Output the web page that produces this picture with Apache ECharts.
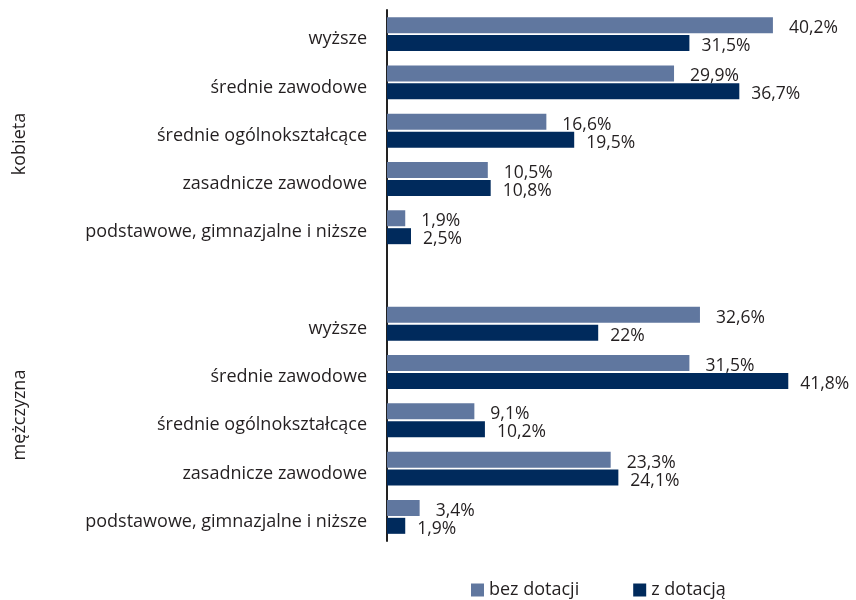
<!DOCTYPE html>
<html><head><meta charset="utf-8">
<script src="https://cdn.jsdelivr.net/npm/echarts@6/dist/echarts.min.js"></script>
<style>html,body{margin:0;padding:0;background:#fff}#c{width:856px;height:600px}</style>
</head><body><div id="c"></div>
<script>
const groups = ['kobieta','mężczyzna'];
const levels = ['wyższe','średnie zawodowe','średnie ogólnokształcące','zasadnicze zawodowe','podstawowe, gimnazjalne i niższe'];
const seriesNames = ['bez dotacji','z dotacją'];
const bezDotacji = [40.2, 29.9, 16.6, 10.5, 1.9, null, 32.6, 31.5, 9.1, 23.3, 3.4];
const zDotacja   = [31.5, 36.7, 19.5, 10.8, 2.5, null, 22.0, 41.8, 10.2, 24.1, 1.9];
const categories = [...levels.map(l => groups[0] + '|' + l), 'gap|', ...levels.map(l => groups[1] + '|' + l)];
const colors = ['#60779f','#002a5c'];
const font = '"Open Sans", sans-serif';
const fmt = p => (p.value == null ? '' : String(p.value).replace('.', ',') + '%');
const chart = echarts.init(document.getElementById('c'));
chart.setOption({
  animation:false,
  textStyle:{fontFamily:font},
  grid:{left:387,top:10,width:432,bottom:59,containLabel:false},
  xAxis:{type:'value',min:0,max:45,show:false},
  yAxis:{type:'category',inverse:true,data:categories,
    axisLine:{show:true,lineStyle:{color:'#222',width:2}},
    axisTick:{show:false},
    axisLabel:{color:'#231f20',fontSize:18,margin:20,fontFamily:font,verticalAlign:'top',lineHeight:10,
      formatter: v => v.split('|')[1]}},
  legend:{bottom:1,left:471,padding:0,itemWidth:13,itemHeight:13,itemGap:54,icon:'rect',
    textStyle:{fontSize:18,color:'#231f20',fontFamily:font},
    data:seriesNames},
  series:[
    {name:seriesNames[0],type:'bar',data:bezDotacji,barWidth:16,barGap:'12%',
     itemStyle:{color:colors[0]},
     label:{show:true,position:'right',distance:16,fontSize:17.5,color:'#231f20',verticalAlign:'top',lineHeight:6,formatter:fmt}},
    {name:seriesNames[1],type:'bar',data:zDotacja,barWidth:16,
     itemStyle:{color:colors[1]},
     label:{show:true,position:'right',distance:12,fontSize:17.5,color:'#231f20',verticalAlign:'top',lineHeight:6,formatter:fmt}}
  ],
  graphic:[
    {type:'text',rotation:Math.PI/2,x:20,y:144,style:{text:groups[0],font:'18px '+font,fill:'#231f20',align:'center',verticalAlign:'middle'}},
    {type:'text',rotation:Math.PI/2,x:20,y:415,style:{text:groups[1],font:'18px '+font,fill:'#231f20',align:'center',verticalAlign:'middle'}}
  ]
});
</script></body></html>
